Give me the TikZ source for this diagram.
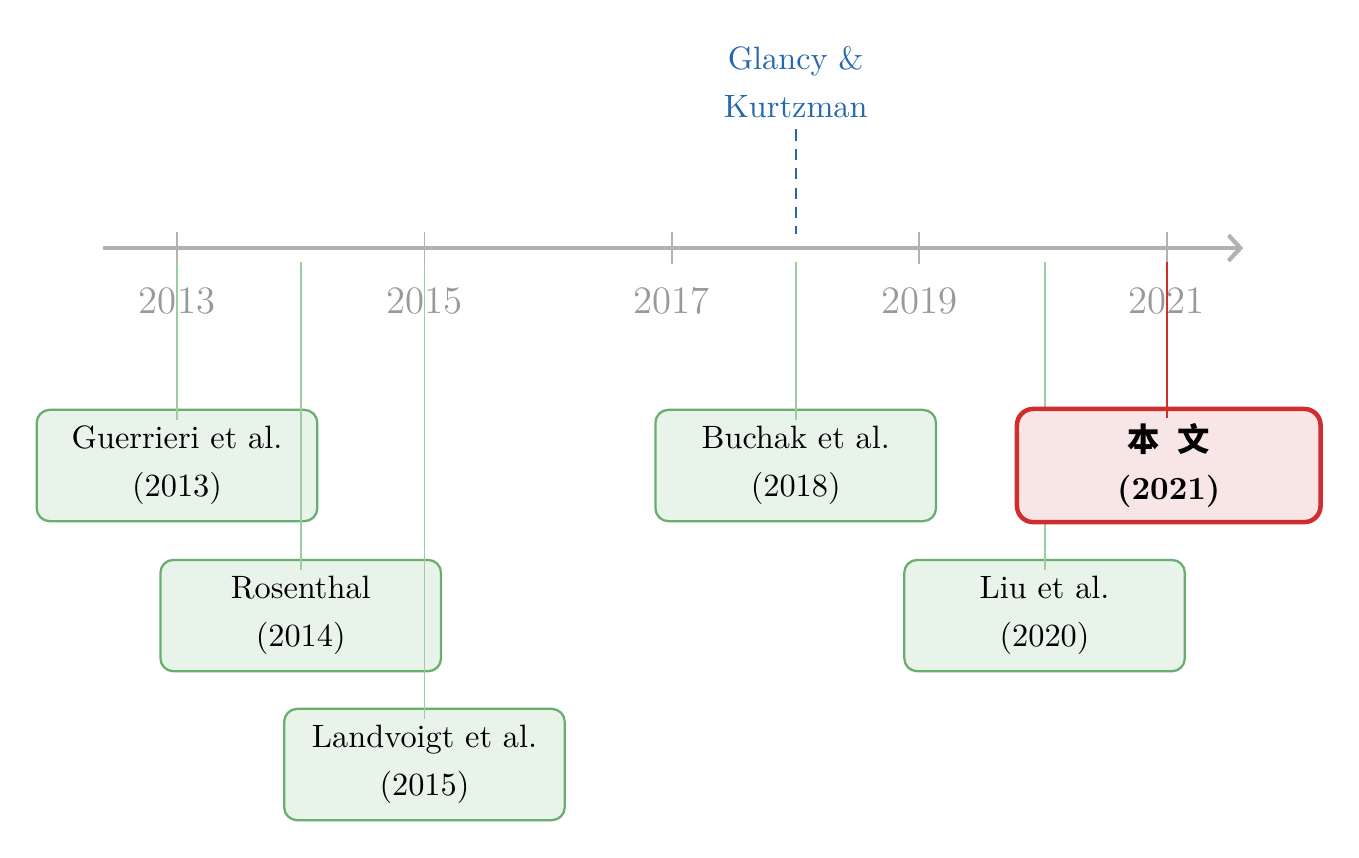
\documentclass[tikz,border=0pt]{standalone}
\usepackage{fontspec}
\newfontfamily\cjk{Noto Sans CJK SC}
\usetikzlibrary{arrows.meta, positioning}

\definecolor{paperGreen}{RGB}{104,174,110}
\definecolor{paperFill}{RGB}{232,243,233}
\definecolor{stemGreen}{RGB}{156,204,161}
\definecolor{oursRed}{RGB}{208,46,46}
\definecolor{oursFill}{RGB}{248,230,230}
\definecolor{glancyBlue}{RGB}{38,104,176}

\begin{document}
\begin{tikzpicture}[
        axis/.style={draw=gray!60, line width=1.3pt, -{Straight Barb[length=1.3mm, width=2.8mm]}},
        tick/.style={draw=gray!60, line width=0.6pt},
        yearlabel/.style={anchor=base, text=gray!80, font=\large},
        paper/.style={rectangle, rounded corners=4pt, draw=paperGreen, fill=paperFill, line width=0.7pt, minimum width=3.05cm, minimum height=1.21cm, align=center, font=\linespread{1.24}\selectfont},
        ours/.style={rectangle, rounded corners=5pt, draw=oursRed, fill=oursFill, line width=1.4pt, minimum width=3.3cm, minimum height=1.23cm, align=center, font=\linespread{1.24}\selectfont\bfseries},
        stem/.style={draw=stemGreen, line width=0.6pt},
        oursstem/.style={draw=oursRed, line width=0.6pt},
        glancy/.style={text=glancyBlue, align=center, font=\linespread{1.24}\selectfont},
        glancyline/.style={draw=glancyBlue, line width=0.7pt, dash pattern=on 3.5pt off 2.5pt}
    ]
    \useasboundingbox (-1.924,-6.63) rectangle (12.848,2.696);

    % Axis
    \coordinate (axisStart) at (-0.8,0);
    \coordinate (axisEnd) at (11.59,0);
    \draw[axis] (axisStart) -- (axisEnd);
    \foreach \yr/\x in {2013/0, 2015/2.69, 2017/5.38, 2019/8.07, 2021/10.76} {
        \draw[tick] (\x,0.174) -- (\x,-0.174);
        \node[yearlabel] (y\yr) at (\x,-0.717) {\yr};
    }

    % Papers
    \node[paper] (Guer) at (0,-2.364) {Guerrieri et al.\\(2013)};
    \node[paper] (Rosen) at (1.345,-3.995) {Rosenthal\\(2014)};
    \node[paper] (Land) at (2.69,-5.614) {Landvoigt et al.\\(2015)};
    \node[paper] (Buchak) at (6.725,-2.364) {Buchak et al.\\(2018)};
    \node[paper] (Liu) at (9.43,-3.995) {Liu et al.\\(2020)};

    % Stems
    \foreach \n/\x in {Guer/0, Rosen/1.345, Land/2.69, Buchak/6.725, Liu/9.43} {
        \coordinate (t\n) at (\x,-0.152);
        \draw[stem] (t\n) -- ([yshift=-3.6pt]\n.north);
    }

    % This paper
    \node[ours] (Ours) at (10.78,-2.364) {{\cjk 本\hspace{0.55em}文}\\(2021)};
    \coordinate (tOurs) at (10.76,-0.152);
    \coordinate (oursTop) at ([yshift=-3.6pt]Ours.north);
    \draw[oursstem] (tOurs) -- (tOurs |- oursTop);

    % Glancy & Kurtzman
    \node[glancy, anchor=south] (Glancy) at (6.725,1.29) {Glancy \&\\Kurtzman};
    \coordinate (tGlancy) at (6.725,0.152);
    \draw[glancyline] (Glancy.south) -- (tGlancy);

\end{tikzpicture}
\end{document}
